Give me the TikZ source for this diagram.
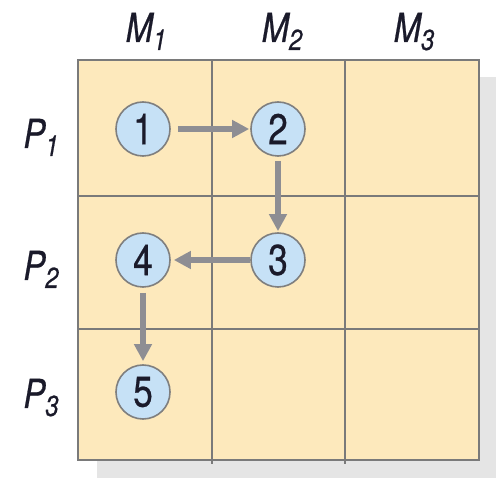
\documentclass[tikz,border=0pt]{standalone}
\usepackage{fontspec}
\setmainfont{TeX Gyre Heros}
\newfontfamily\condfont[FakeStretch=0.82,FakeBold=0.6]{TeX Gyre Heros}
\usetikzlibrary{arrows.meta}
\definecolor{cellfill}{HTML}{FDE9BC}
\definecolor{gridline}{HTML}{7A7A7A}
\definecolor{shadowgray}{HTML}{E5E5E5}
\definecolor{circfill}{HTML}{C6E1F6}
\definecolor{circline}{HTML}{7F7F7F}
\definecolor{arrowgray}{HTML}{8E8E93}
\definecolor{textdark}{HTML}{1A1A2A}
\newcommand{\axlab}[2]{{\condfont\itshape\fontsize{40}{44}\selectfont #1\raisebox{-8pt}{\fontsize{29}{32}\selectfont #2}}}
\tikzset{
  gridlines/.style={draw=gridline, line width=2.2pt},
  stepcircle/.style={circle, minimum size=54pt, inner sep=0pt, fill=circfill, draw=circline, line width=1.6pt,
    text=textdark, font=\condfont\fontsize{43}{46}\selectfont},
  axislabel/.style={anchor=base, text=textdark, inner sep=0pt},
  flow/.style={draw=arrowgray, line width=6pt, -{Triangle[length=17pt,width=17pt]}}
}
\begin{document}
\begin{tikzpicture}[x=1pt,y=-1pt]
\useasboundingbox (0,0) rectangle (496,478);
% shadow
\fill[shadowgray] (97,77) rectangle (496,478);
% grid
\fill[cellfill] (78,60) rectangle (479,460);
\draw[gridlines] (212,60) -- (212,464);
\draw[gridlines] (345,60) -- (345,464);
\draw[gridlines] (78,196) -- (479,196);
\draw[gridlines] (78,329) -- (479,329);
\draw[gridlines] (78,60) rectangle (479,460);
% labels
\node[axislabel] (m1) at (146,42) {\axlab{M}{1}};
\node[axislabel] (m2) at (282,42) {\axlab{M}{2}};
\node[axislabel] (m3) at (414,42) {\axlab{M}{3}};
\node[axislabel] (p1) at (41,148) {\axlab{P}{1}};
\node[axislabel] (p2) at (41,280) {\axlab{P}{2}};
\node[axislabel] (p3) at (41,408) {\axlab{P}{3}};
% steps
\node[stepcircle] (n1) at (143,129) {1};
\node[stepcircle] (n2) at (278,129) {2};
\node[stepcircle] (n3) at (278,260) {3};
\node[stepcircle] (n4) at (143,260) {4};
\node[stepcircle] (n5) at (143,392) {5};
% flows
\draw[flow, shorten <=7pt, shorten >=1pt] (n1) -- (n2);
\draw[flow, shorten <=4pt, shorten >=1pt] (n2) -- (n3);
\draw[flow, shorten <=0pt, shorten >=3pt] (n3) -- (n4);
\draw[flow, shorten <=5pt, shorten >=3pt] (n4) -- (n5);
\end{tikzpicture}
\end{document}
